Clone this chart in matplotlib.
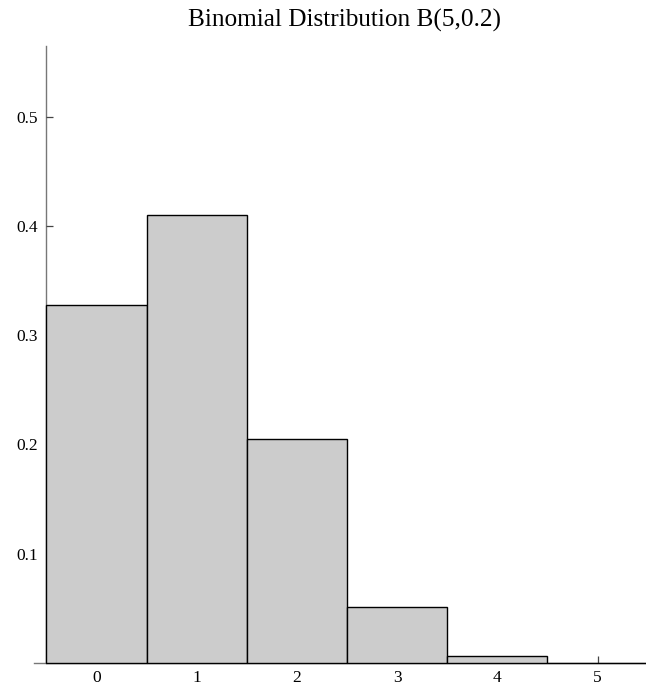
import matplotlib
matplotlib.use("Agg")
import matplotlib.pyplot as plt

k_values = [0, 1, 2, 3, 4, 5]
probabilities = [0.32768, 0.4096, 0.2048, 0.0512, 0.0064, 0.00032]
y_ticks = [0.1, 0.2, 0.3, 0.4, 0.5]
title = "Binomial Distribution B(5,0.2)"

plt.rcParams['font.family'] = ['Liberation Serif', 'DejaVu Serif']

W, H = 646, 685
fig = plt.figure(figsize=(W / 100, H / 100), dpi=100)
left_px, right_px, top_px, bottom_px = 34.4, 647.6, 45.5, 663
ax = fig.add_axes([left_px / W, (H - bottom_px) / H,
                   (right_px - left_px) / W, (bottom_px - top_px) / H])
ax.set_xlim(-0.62, 5.5)
ax.set_ylim(0, 0.565)

ax.bar(k_values, probabilities, width=1.0, color='#cccccc',
       edgecolor='black', linewidth=1.0, zorder=3, clip_on=False)

for s in ['top', 'right']:
    ax.spines[s].set_visible(False)
ax.spines['left'].set_position(('data', -0.5))
ax.spines['left'].set_color('#777777')
ax.spines['left'].set_linewidth(1.0)
ax.spines['bottom'].set_color('#777777')
ax.spines['bottom'].set_linewidth(1.0)

ax.set_xticks(k_values)
ax.set_xticklabels([str(k) for k in k_values])
ax.set_yticks(y_ticks)
ax.set_yticklabels([f"{v:.1f}" for v in y_ticks])
ax.tick_params(axis='both', direction='in', length=5, width=0.9,
               labelsize=12.5, color='#444444', labelcolor='black')
ax.tick_params(axis='x', pad=5)
ax.tick_params(axis='y', pad=6)
ax.set_axisbelow(False)
for t in ax.xaxis.get_major_ticks() + ax.yaxis.get_major_ticks():
    t.tick1line.set_zorder(5)

fig.text(188 / W, 1 - 27 / H, title, ha='left', va='baseline', fontsize=18.2)

fig.savefig("out.png", dpi=100)
